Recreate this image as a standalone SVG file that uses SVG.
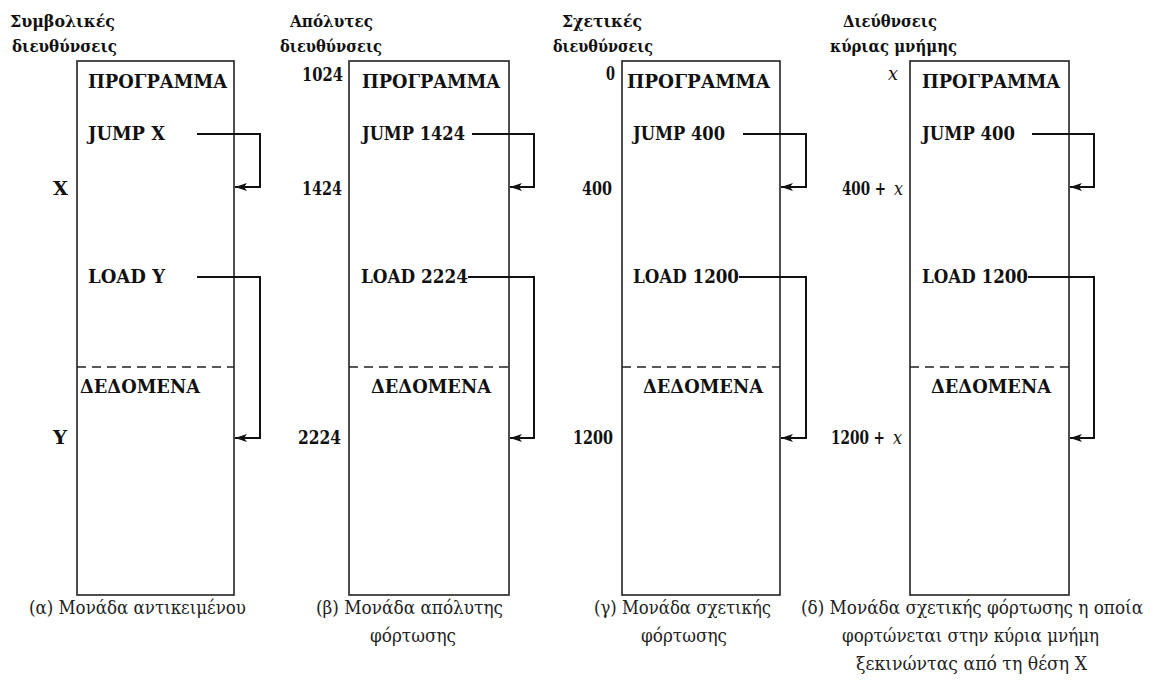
<svg xmlns="http://www.w3.org/2000/svg" width="1158" height="684" viewBox="0 0 1158 684">
  <style>
    .box { fill: #fff; stroke: #222; stroke-width: 1.6; }
    .sep { stroke: #222; stroke-width: 1.5; stroke-dasharray: 9 6; fill: none; }
    .link { fill: none; stroke: #111; stroke-width: 2; marker-end: url(#arrow); }
    text { font-family: "DejaVu Serif Condensed", "DejaVu Serif", "Liberation Serif", serif; }
    .b { font-weight: bold; font-size: 18px; fill: #111; }
    .hd { font-weight: bold; font-size: 16.5px; fill: #111; }
    .cap { font-size: 18.5px; fill: #222; }
    .it { font-style: italic; font-weight: normal; }
  </style>
  <defs>
    <marker id="arrow" markerUnits="userSpaceOnUse" markerWidth="14" markerHeight="10" refX="12" refY="5" orient="auto">
      <path d="M0,1 L12,5 L0,9 L3,5 Z" fill="#111"/>
    </marker>
  </defs>
  <rect width="1158" height="684" fill="#fff"/>

  <!-- (a) object module with symbolic addresses -->
  <g id="module-a">
    <text class="hd" x="10" y="27" textLength="105" lengthAdjust="spacingAndGlyphs">Συμβολικές</text>
    <text class="hd" x="12" y="52" textLength="105" lengthAdjust="spacingAndGlyphs">διευθύνσεις</text>
    <rect class="box" x="77" y="61" width="157" height="534"/>
    <text class="b" x="88" y="88" textLength="139" lengthAdjust="spacingAndGlyphs">ΠΡΟΓΡΑΜΜΑ</text>
    <text class="b" x="88" y="140" textLength="77" lengthAdjust="spacingAndGlyphs">JUMP X</text>
    <text class="b" x="53" y="195" textLength="15" lengthAdjust="spacingAndGlyphs">X</text>
    <text class="b" x="88" y="283" textLength="77" lengthAdjust="spacingAndGlyphs">LOAD Y</text>
    <line class="sep" x1="77" y1="367" x2="234" y2="367"/>
    <text class="b" x="80" y="393" textLength="120" lengthAdjust="spacingAndGlyphs">ΔΕΔΟΜΕΝΑ</text>
    <text class="b" x="53" y="444" textLength="14" lengthAdjust="spacingAndGlyphs">Y</text>
    <text class="cap" x="29" y="614" textLength="217" lengthAdjust="spacingAndGlyphs">(α) Μονάδα αντικειμένου</text>
  </g>

  <!-- (b) absolute load module -->
  <g id="module-b">
    <text class="hd" x="290" y="27" textLength="83" lengthAdjust="spacingAndGlyphs">Απόλυτες</text>
    <text class="hd" x="280" y="52" textLength="102" lengthAdjust="spacingAndGlyphs">διευθύνσεις</text>
    <rect class="box" x="349" y="61" width="160" height="534"/>
    <text class="b" x="302" y="81" textLength="41" lengthAdjust="spacingAndGlyphs">1024</text>
    <text class="b" x="362" y="88" textLength="138" lengthAdjust="spacingAndGlyphs">ΠΡΟΓΡΑΜΜΑ</text>
    <text class="b" x="362" y="140" textLength="103" lengthAdjust="spacingAndGlyphs">JUMP 1424</text>
    <text class="b" x="302" y="195" textLength="40" lengthAdjust="spacingAndGlyphs">1424</text>
    <text class="b" x="361" y="283" textLength="107" lengthAdjust="spacingAndGlyphs">LOAD 2224</text>
    <line class="sep" x1="349" y1="367" x2="509" y2="367"/>
    <text class="b" x="371" y="393" textLength="120" lengthAdjust="spacingAndGlyphs">ΔΕΔΟΜΕΝΑ</text>
    <text class="b" x="298" y="444" textLength="43" lengthAdjust="spacingAndGlyphs">2224</text>
    <text class="cap" x="316" y="614" textLength="187" lengthAdjust="spacingAndGlyphs">(β) Μονάδα απόλυτης</text>
    <text class="cap" x="370" y="642" textLength="86" lengthAdjust="spacingAndGlyphs">φόρτωσης</text>
  </g>

  <!-- (c) relative load module -->
  <g id="module-c">
    <text class="hd" x="562" y="27" textLength="80" lengthAdjust="spacingAndGlyphs">Σχετικές</text>
    <text class="hd" x="553" y="52" textLength="100" lengthAdjust="spacingAndGlyphs">διευθύνσεις</text>
    <rect class="box" x="622" y="61" width="158" height="534"/>
    <text class="b" x="606" y="80" textLength="9" lengthAdjust="spacingAndGlyphs">0</text>
    <text class="b" x="627" y="88" textLength="143" lengthAdjust="spacingAndGlyphs">ΠΡΟΓΡΑΜΜΑ</text>
    <text class="b" x="633" y="140" textLength="92" lengthAdjust="spacingAndGlyphs">JUMP 400</text>
    <text class="b" x="582" y="195" textLength="30" lengthAdjust="spacingAndGlyphs">400</text>
    <text class="b" x="633" y="283" textLength="106" lengthAdjust="spacingAndGlyphs">LOAD 1200</text>
    <line class="sep" x1="622" y1="367" x2="780" y2="367"/>
    <text class="b" x="643" y="393" textLength="120" lengthAdjust="spacingAndGlyphs">ΔΕΔΟΜΕΝΑ</text>
    <text class="b" x="573" y="444" textLength="40" lengthAdjust="spacingAndGlyphs">1200</text>
    <text class="cap" x="594" y="614" textLength="177" lengthAdjust="spacingAndGlyphs">(γ) Μονάδα σχετικής</text>
    <text class="cap" x="641" y="642" textLength="86" lengthAdjust="spacingAndGlyphs">φόρτωσης</text>
  </g>

  <!-- (d) relative load module placed in main memory at x -->
  <g id="module-d">
    <text class="hd" x="843" y="27" textLength="94" lengthAdjust="spacingAndGlyphs">Διεύθνσεις</text>
    <text class="hd" x="830" y="52" textLength="127" lengthAdjust="spacingAndGlyphs">κύριας μνήμης</text>
    <rect class="box" x="910" y="61" width="159" height="534"/>
    <text class="b it" x="888" y="80" textLength="10" lengthAdjust="spacingAndGlyphs">x</text>
    <text class="b" x="922" y="88" textLength="138" lengthAdjust="spacingAndGlyphs">ΠΡΟΓΡΑΜΜΑ</text>
    <text class="b" x="922" y="140" textLength="93" lengthAdjust="spacingAndGlyphs">JUMP 400</text>
    <text class="b" x="842" y="195" textLength="44" lengthAdjust="spacingAndGlyphs">400 +</text>
    <text class="b it" x="894" y="195" textLength="9" lengthAdjust="spacingAndGlyphs">x</text>
    <text class="b" x="922" y="283" textLength="106" lengthAdjust="spacingAndGlyphs">LOAD 1200</text>
    <line class="sep" x1="910" y1="367" x2="1069" y2="367"/>
    <text class="b" x="931" y="393" textLength="120" lengthAdjust="spacingAndGlyphs">ΔΕΔΟΜΕΝΑ</text>
    <text class="b" x="831" y="444" textLength="54" lengthAdjust="spacingAndGlyphs">1200 +</text>
    <text class="b it" x="893" y="444" textLength="9" lengthAdjust="spacingAndGlyphs">x</text>
    <text class="cap" x="801" y="614" textLength="342" lengthAdjust="spacingAndGlyphs">(δ) Μονάδα σχετικής φόρτωσης η οποία</text>
    <text class="cap" x="842" y="642" textLength="257" lengthAdjust="spacingAndGlyphs">φορτώνεται στην κύρια μνήμη</text>
    <text class="cap" x="856" y="670" textLength="231" lengthAdjust="spacingAndGlyphs">ξεκινώντας από τη θέση X</text>
  </g>

  <!-- jump / load references pointing to their target addresses -->
  <g id="connectors">
    <path class="link" d="M197,134 H260 V187 H235"/>
    <path class="link" d="M197,277 H260 V438 H235"/>
    <path class="link" d="M472,134 H534 V187 H510"/>
    <path class="link" d="M468,277 H534 V438 H510"/>
    <path class="link" d="M743,134 H806 V187 H781"/>
    <path class="link" d="M739,277 H806 V438 H781"/>
    <path class="link" d="M1032,134 H1094 V187 H1070"/>
    <path class="link" d="M1028,277 H1094 V438 H1070"/>
  </g>
</svg>
